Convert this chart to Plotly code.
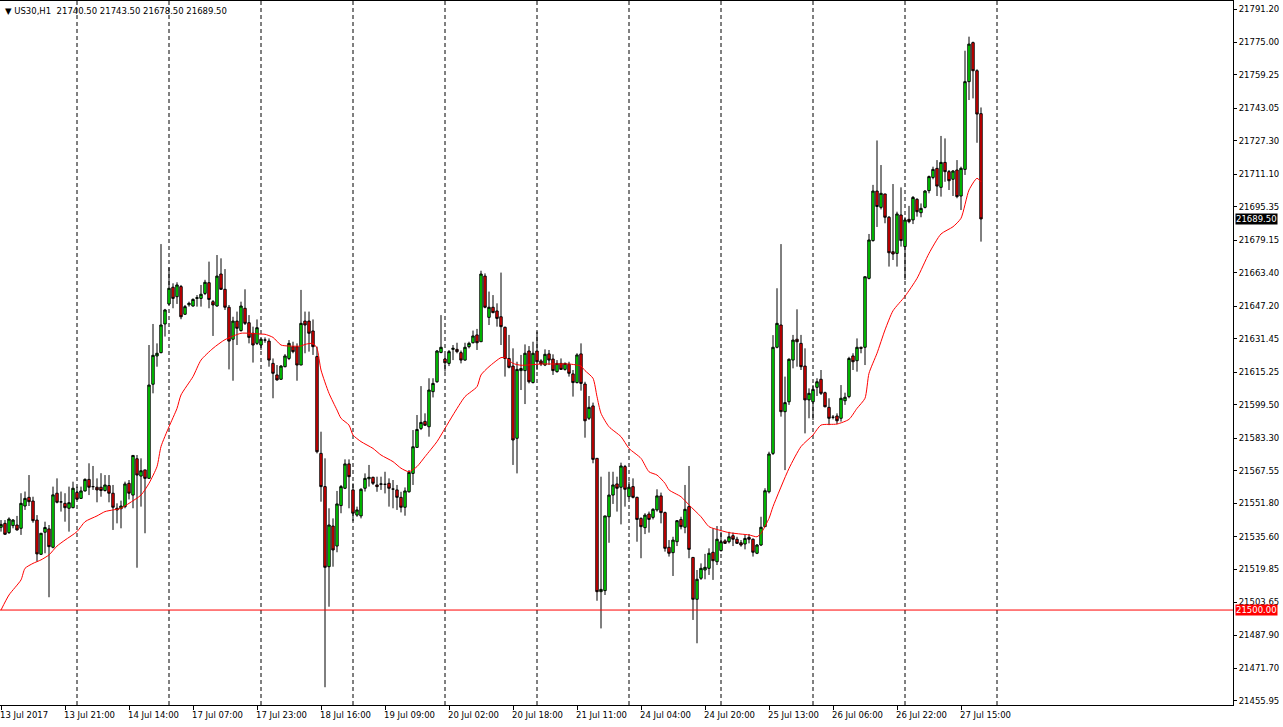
import plotly.graph_objects as go

# US30 H1 bars, 13 Jul 2017 04:00 .. 27 Jul 2017 19:00 (bar index 0..245)
open_ = [
    21540.1, 21542.0, 21537.5, 21540.9, 21541.2, 21539.6, 21550.4, 21554.6, 21552.8, 21543.6,
    21527.0, 21537.7, 21539.3, 21530.4, 21556.6, 21552.4, 21551.7, 21549.3, 21549.6, 21557.0,
    21554.1, 21557.7, 21563.3, 21559.8, 21559.5, 21559.5, 21557.9, 21560.3, 21556.6, 21548.5,
    21549.1, 21550.1, 21561.4, 21555.7, 21573.3, 21564.9, 21567.9, 21563.8, 21609.4, 21623.1,
    21624.7, 21638.6, 21648.3, 21656.4, 21651.8, 21656.7, 21643.3, 21647.9, 21647.3, 21651.0,
    21651.0, 21653.4, 21658.6, 21649.4, 21647.3, 21662.8, 21655.4, 21646.7, 21631.2, 21640.0,
    21635.4, 21646.2, 21639.2, 21634.1, 21629.2, 21628.4, 21630.8, 21630.3, 21619.5, 21613.9,
    21611.8, 21617.9, 21621.9, 21627.6, 21627.6, 21618.7, 21640.0, 21640.0, 21635.2, 21622.8,
    21575.9, 21559.8, 21521.0, 21540.7, 21531.0, 21550.6, 21559.0, 21570.8, 21558.2, 21546.0,
    21545.6, 21559.0, 21563.6, 21564.3, 21560.6, 21560.9, 21560.9, 21561.4, 21558.6, 21558.2,
    21554.6, 21549.8, 21557.3, 21566.2, 21578.8, 21588.0, 21591.4, 21588.8, 21605.8, 21610.6,
    21624.8, 21621.6, 21619.5, 21626.3, 21626.3, 21624.7, 21621.1, 21627.6, 21629.5, 21633.3,
    21630.0, 21661.8, 21641.8, 21646.7, 21644.9, 21642.1, 21637.0, 21621.9, 21618.2, 21583.2,
    21616.0, 21616.0, 21625.5, 21610.2, 21625.5, 21620.7, 21618.7, 21624.1, 21621.6, 21615.5,
    21619.5, 21616.6, 21619.1, 21614.4, 21610.2, 21624.1, 21609.5, 21592.9, 21598.9, 21573.5,
    21508.9, 21509.4, 21545.2, 21555.7, 21561.1, 21559.5, 21569.5, 21554.9, 21559.8, 21554.6,
    21544.4, 21539.9, 21546.5, 21544.9, 21548.5, 21555.3, 21547.2, 21530.4, 21527.8, 21533.1,
    21543.9, 21540.1, 21550.1, 21525.5, 21505.2, 21515.4, 21519.4, 21520.2, 21528.0, 21523.4,
    21528.8, 21533.5, 21533.1, 21536.0, 21534.3, 21532.6, 21532.0, 21535.2, 21534.3, 21527.5,
    21531.5, 21540.4, 21557.3, 21575.9, 21627.3, 21638.1, 21596.1, 21600.9, 21621.1, 21631.2,
    21629.2, 21618.2, 21601.8, 21600.9, 21607.9, 21611.8, 21605.3, 21598.2, 21593.4, 21594.0,
    21592.9, 21601.4, 21603.4, 21623.1, 21620.8, 21627.3, 21627.3, 21660.7, 21679.0, 21703.0,
    21695.1, 21701.6, 21690.3, 21673.6, 21672.8, 21691.4, 21676.1, 21689.3, 21689.0, 21699.0,
    21692.5, 21695.1, 21703.2, 21709.6, 21714.0, 21704.8, 21716.9, 21712.4, 21708.7, 21713.2,
    21700.6, 21713.5, 21756.0, 21774.9, 21761.3, 21740.5,
]
high = [
    21543.6, 21543.6, 21544.9, 21544.1, 21545.6, 21556.6, 21557.4, 21565.4, 21554.9, 21546.0,
    21537.2, 21542.8, 21541.2, 21559.8, 21563.8, 21557.4, 21556.6, 21559.8, 21562.2, 21559.8,
    21559.8, 21563.8, 21571.1, 21569.8, 21563.8, 21566.3, 21565.4, 21565.4, 21560.6, 21551.7,
    21553.0, 21562.2, 21563.0, 21574.9, 21575.1, 21573.5, 21567.9, 21628.4, 21638.6, 21629.2,
    21677.3, 21645.9, 21666.0, 21658.3, 21658.8, 21657.5, 21647.8, 21649.4, 21651.0, 21652.6,
    21657.5, 21660.0, 21668.8, 21650.2, 21672.0, 21670.4, 21665.2, 21647.8, 21642.1, 21644.6,
    21649.4, 21655.4, 21642.9, 21637.3, 21640.8, 21631.6, 21632.1, 21631.6, 21621.9, 21618.7,
    21618.7, 21624.0, 21630.8, 21630.0, 21629.2, 21655.1, 21644.6, 21644.6, 21640.8, 21627.6,
    21586.4, 21573.5, 21549.3, 21544.4, 21557.7, 21560.6, 21573.0, 21573.0, 21561.4, 21550.1,
    21559.0, 21566.2, 21570.3, 21564.6, 21564.6, 21564.6, 21567.0, 21563.8, 21563.0, 21560.6,
    21557.3, 21559.4, 21567.8, 21587.2, 21594.5, 21608.5, 21595.3, 21612.3, 21612.3, 21626.0,
    21642.9, 21623.6, 21626.0, 21628.4, 21629.5, 21625.7, 21629.5, 21630.0, 21635.4, 21636.2,
    21664.4, 21663.1, 21654.3, 21652.6, 21648.6, 21663.5, 21637.3, 21633.3, 21626.8, 21620.3,
    21623.6, 21628.7, 21627.9, 21630.0, 21634.9, 21621.5, 21626.3, 21626.0, 21623.9, 21621.1,
    21621.9, 21619.9, 21620.3, 21616.3, 21624.4, 21629.2, 21610.6, 21603.7, 21600.5, 21573.5,
    21564.6, 21545.6, 21567.0, 21567.0, 21564.6, 21571.4, 21570.3, 21562.2, 21563.8, 21554.9,
    21544.9, 21546.9, 21547.7, 21549.3, 21558.5, 21556.9, 21547.7, 21533.9, 21535.5, 21543.6,
    21545.2, 21560.6, 21569.8, 21525.5, 21519.4, 21522.6, 21527.2, 21529.9, 21539.6, 21540.7,
    21537.9, 21534.3, 21537.9, 21537.5, 21535.5, 21533.9, 21536.4, 21536.8, 21534.7, 21532.0,
    21545.2, 21559.0, 21576.7, 21633.2, 21655.9, 21677.3, 21613.1, 21621.9, 21633.3, 21645.7,
    21633.3, 21626.8, 21607.4, 21609.0, 21612.3, 21616.3, 21605.8, 21602.6, 21594.5, 21595.3,
    21609.0, 21605.3, 21622.7, 21624.4, 21631.6, 21627.6, 21661.5, 21682.2, 21706.0, 21727.5,
    21715.6, 21701.6, 21690.9, 21706.4, 21693.0, 21704.8, 21690.3, 21695.8, 21700.6, 21699.5,
    21697.0, 21703.5, 21710.5, 21714.8, 21718.0, 21729.7, 21728.5, 21713.2, 21713.2, 21718.0,
    21714.8, 21771.0, 21777.8, 21775.4, 21762.0, 21743.5,
]
low = [
    21538.0, 21536.4, 21536.9, 21539.6, 21538.5, 21536.4, 21548.5, 21550.4, 21542.3, 21523.5,
    21526.7, 21527.5, 21506.2, 21529.9, 21551.7, 21547.7, 21542.8, 21538.0, 21549.3, 21553.3,
    21553.8, 21557.4, 21555.7, 21558.2, 21552.2, 21554.9, 21557.4, 21552.2, 21538.8, 21542.0,
    21539.6, 21549.3, 21553.6, 21549.3, 21520.5, 21550.1, 21537.2, 21563.8, 21605.0, 21617.9,
    21624.4, 21632.5, 21647.8, 21646.2, 21648.3, 21640.9, 21643.0, 21647.0, 21647.0, 21647.0,
    21647.0, 21652.6, 21646.2, 21632.8, 21647.0, 21655.1, 21645.4, 21616.6, 21611.1, 21628.4,
    21634.9, 21638.1, 21629.2, 21619.9, 21628.4, 21626.0, 21629.5, 21617.9, 21602.6, 21611.1,
    21611.5, 21617.6, 21621.1, 21624.4, 21611.1, 21618.7, 21624.4, 21625.2, 21623.6, 21575.9,
    21552.5, 21462.6, 21501.6, 21521.0, 21528.0, 21546.9, 21558.6, 21549.3, 21543.1, 21545.2,
    21544.4, 21557.4, 21559.8, 21560.6, 21557.3, 21558.2, 21556.5, 21550.1, 21549.3, 21548.5,
    21547.3, 21545.7, 21556.9, 21560.6, 21578.8, 21587.2, 21589.2, 21584.0, 21603.0, 21610.1,
    21624.4, 21615.5, 21618.2, 21621.1, 21624.4, 21619.5, 21620.8, 21626.8, 21629.2, 21626.0,
    21630.0, 21646.2, 21638.1, 21643.8, 21637.3, 21628.4, 21613.1, 21617.1, 21570.3, 21566.2,
    21606.6, 21599.8, 21609.8, 21609.8, 21616.3, 21618.2, 21618.2, 21618.7, 21613.9, 21615.0,
    21616.3, 21616.0, 21613.1, 21603.4, 21609.8, 21606.3, 21583.5, 21592.1, 21571.1, 21504.5,
    21491.1, 21507.3, 21532.6, 21551.4, 21547.7, 21541.5, 21550.1, 21554.1, 21554.1, 21533.1,
    21525.1, 21536.8, 21537.5, 21543.9, 21547.7, 21542.0, 21528.3, 21525.9, 21516.5, 21531.0,
    21539.1, 21537.2, 21525.1, 21495.2, 21483.9, 21514.6, 21514.9, 21517.0, 21514.6, 21521.8,
    21528.3, 21532.0, 21532.3, 21531.0, 21532.0, 21530.7, 21529.4, 21532.3, 21525.9, 21527.1,
    21531.0, 21540.4, 21556.5, 21575.1, 21626.8, 21593.7, 21567.8, 21599.4, 21617.1, 21617.9,
    21616.3, 21585.6, 21592.9, 21592.1, 21603.7, 21604.2, 21598.2, 21589.6, 21592.4, 21590.1,
    21591.3, 21599.4, 21602.6, 21616.3, 21615.5, 21624.4, 21618.7, 21660.2, 21678.5, 21685.6,
    21694.1, 21687.4, 21666.4, 21669.6, 21666.4, 21676.1, 21659.9, 21687.4, 21687.0, 21690.6,
    21690.3, 21694.6, 21701.9, 21708.7, 21700.6, 21700.3, 21707.5, 21703.5, 21700.6, 21699.5,
    21693.8, 21710.8, 21747.1, 21747.9, 21726.4, 21678.5,
]
close = [
    21541.5, 21536.7, 21544.1, 21543.6, 21538.8, 21551.7, 21554.1, 21552.5, 21543.3, 21527.2,
    21537.2, 21540.0, 21530.7, 21555.8, 21552.2, 21552.4, 21549.6, 21552.0, 21559.0, 21553.7,
    21557.7, 21563.3, 21559.5, 21559.8, 21558.2, 21557.9, 21560.6, 21556.6, 21549.8, 21549.3,
    21550.4, 21561.1, 21556.6, 21574.9, 21565.4, 21567.5, 21563.8, 21609.0, 21623.4, 21624.4,
    21638.1, 21645.4, 21655.9, 21651.0, 21657.5, 21642.1, 21647.0, 21648.6, 21650.5, 21651.3,
    21653.0, 21658.8, 21650.5, 21647.8, 21661.8, 21655.4, 21646.7, 21630.3, 21640.0, 21636.5,
    21647.3, 21638.9, 21632.1, 21628.4, 21636.8, 21631.2, 21630.8, 21621.1, 21614.7, 21611.5,
    21618.2, 21623.1, 21629.2, 21625.2, 21618.7, 21638.9, 21638.1, 21634.1, 21627.6, 21576.7,
    21559.8, 21520.7, 21541.2, 21529.1, 21551.4, 21559.8, 21570.8, 21564.6, 21546.9, 21548.5,
    21558.5, 21563.8, 21564.3, 21561.4, 21559.8, 21561.1, 21560.9, 21559.0, 21558.6, 21554.6,
    21549.8, 21557.7, 21566.7, 21579.1, 21587.5, 21590.9, 21589.5, 21606.6, 21609.8, 21625.5,
    21627.3, 21619.8, 21625.2, 21626.8, 21625.2, 21621.1, 21627.3, 21629.2, 21632.8, 21629.5,
    21662.8, 21646.7, 21646.7, 21644.1, 21641.3, 21637.3, 21621.9, 21617.6, 21582.4, 21616.6,
    21617.0, 21624.4, 21610.6, 21624.4, 21620.3, 21619.2, 21623.9, 21621.1, 21616.0, 21619.5,
    21616.6, 21619.5, 21614.7, 21610.2, 21623.6, 21609.8, 21591.7, 21598.2, 21573.0, 21508.9,
    21510.0, 21545.6, 21555.7, 21560.6, 21559.0, 21569.8, 21558.5, 21559.5, 21554.6, 21543.9,
    21540.4, 21546.0, 21543.9, 21548.8, 21555.3, 21547.2, 21529.9, 21527.5, 21533.9, 21543.3,
    21540.4, 21548.8, 21529.4, 21505.2, 21514.9, 21520.2, 21520.7, 21527.5, 21523.9, 21534.3,
    21533.1, 21532.3, 21535.5, 21534.3, 21532.3, 21531.5, 21534.7, 21534.3, 21528.0, 21531.5,
    21540.1, 21557.8, 21575.6, 21627.3, 21638.9, 21596.1, 21600.5, 21621.5, 21630.8, 21630.0,
    21617.9, 21601.8, 21605.0, 21606.9, 21610.6, 21605.0, 21598.5, 21592.9, 21593.4, 21591.7,
    21602.6, 21603.1, 21621.9, 21620.3, 21627.3, 21626.8, 21661.5, 21679.3, 21703.0, 21695.5,
    21701.9, 21690.3, 21673.1, 21672.5, 21691.9, 21679.0, 21689.0, 21688.2, 21699.9, 21693.0,
    21694.6, 21703.0, 21710.0, 21713.5, 21705.4, 21716.9, 21712.4, 21708.0, 21712.7, 21700.3,
    21714.0, 21756.0, 21774.2, 21761.3, 21740.3, 21689.5,
]

# moving average at selected bars
ma_bar = [0, 2, 5, 6, 8, 10, 12, 14, 16, 19, 21, 24, 26, 28, 30, 32, 35, 37, 39, 40,
          42, 44, 45, 48, 50, 53, 56, 60, 62, 65, 66, 68, 70, 72, 75, 76, 78, 79, 80, 82,
          84, 85, 87, 88, 90, 93, 95, 98, 100, 102, 104, 106, 109, 111, 113, 116, 119, 120, 122, 125,
          126, 128, 130, 135, 138, 142, 145, 146, 148, 149, 150, 152, 155, 157, 160, 162, 164, 166, 167, 170,
          172, 175, 177, 180, 182, 185, 187, 189, 190, 192, 193, 197, 200, 203, 205, 209, 212, 214, 216, 217,
          219, 221, 223, 226, 229, 232, 235, 238, 240, 242, 244, 245]
ma_val = [21500.0, 21507.3, 21514.6, 21520.2, 21522.6, 21524.3, 21526.7, 21531.0, 21533.9, 21538.0,
          21542.8, 21545.6, 21547.7, 21548.5, 21549.3, 21551.7, 21555.7, 21561.4, 21569.5, 21579.2,
          21588.8, 21597.7, 21604.2, 21613.1, 21621.1, 21626.8, 21631.0, 21634.1, 21634.1, 21633.7,
          21633.6, 21632.1, 21628.4, 21627.9, 21627.9, 21628.7, 21629.2, 21626.8, 21616.3, 21605.0,
          21596.9, 21592.9, 21589.6, 21584.8, 21581.6, 21578.3, 21575.1, 21571.9, 21568.7, 21567.0,
          21569.5, 21574.3, 21581.6, 21588.0, 21594.5, 21603.4, 21608.2, 21613.9, 21617.9, 21622.3,
          21622.3, 21619.5, 21618.6, 21619.2, 21619.2, 21619.2, 21618.2, 21616.0, 21612.3, 21603.4,
          21595.3, 21588.8, 21584.0, 21578.3, 21573.5, 21567.0, 21565.4, 21561.4, 21558.2, 21554.9,
          21550.9, 21545.2, 21540.4, 21538.5, 21537.5, 21536.8, 21536.4, 21535.5, 21537.2, 21544.4,
          21550.1, 21568.6, 21579.2, 21584.8, 21589.6, 21590.1, 21592.4, 21597.7, 21602.6, 21614.7,
          21624.4, 21635.7, 21645.0, 21652.0, 21660.7, 21672.8, 21682.2, 21685.7, 21689.8, 21703.5,
          21709.2, 21707.5]

# day separators (bar index of first bar of each day)
day_start_bars = [19, 42, 65, 88, 111, 134, 157, 180, 203, 226, 249]

# time axis labels
time_label_bars = [0, 16, 32, 48, 64, 80, 96, 112, 128, 144, 160, 176, 192, 208, 224, 240]
time_labels = ["13 Jul 2017", "13 Jul 21:00", "14 Jul 14:00", "17 Jul 07:00", "17 Jul 23:00",
               "18 Jul 16:00", "19 Jul 09:00", "20 Jul 02:00", "20 Jul 18:00", "21 Jul 11:00",
               "24 Jul 04:00", "24 Jul 20:00", "25 Jul 13:00", "26 Jul 06:00", "26 Jul 22:00",
               "27 Jul 15:00"]

price_ticks = [21791.20, 21775.00, 21759.25, 21743.05, 21727.30, 21711.10, 21695.35, 21679.15,
               21663.40, 21647.20, 21631.45, 21615.25, 21599.50, 21583.30, 21567.55, 21551.80,
               21535.60, 21519.85, 21503.65, 21487.90, 21471.70, 21455.95]

level_line = 21500.00
bars = list(range(len(close)))

FONT = "Tahoma, DejaVu Sans, sans-serif"

fig = go.Figure()

fig.add_trace(
    go.Candlestick(
        x=bars,
        open=open_,
        high=high,
        low=low,
        close=close,
        increasing=dict(fillcolor="#00FF00", line=dict(color="black", width=1)),
        decreasing=dict(fillcolor="#FF0000", line=dict(color="black", width=1)),
        whiskerwidth=0,
        hoverinfo="skip",
        showlegend=False,
    )
)

fig.add_trace(
    go.Scatter(
        x=ma_bar,
        y=ma_val,
        mode="lines",
        line=dict(color="red", width=1, shape="spline", smoothing=0.6),
        hoverinfo="skip",
        showlegend=False,
    )
)

for b in day_start_bars:
    fig.add_vline(x=b, line=dict(color="black", width=1, dash="4px,3px"), layer="below")

fig.add_hline(y=level_line, line=dict(color="red", width=1))

# bottom time labels, left-aligned on their ticks like MT4
for b, t in zip(time_label_bars, time_labels):
    fig.add_annotation(
        x=b, xref="x", y=0, yref="paper", yanchor="top", xanchor="left",
        text=t, showarrow=False, xshift=-3, yshift=-3,
        font=dict(family=FONT, size=8.5, color="black"),
    )

# price markers on the right axis
for val, bg in [(close[-1], "black"), (level_line, "red")]:
    fig.add_annotation(
        x=1, xref="paper", y=val, yref="y", xanchor="left", yanchor="middle",
        text=f"{val:.2f}", showarrow=False, xshift=2,
        bgcolor=bg, borderpad=0, font=dict(family=FONT, size=8.5, color="white"),
    )

# header
fig.add_annotation(
    x=0, xref="paper", y=1, yref="paper", xanchor="left", yanchor="top",
    text=f"\u25BC US30,H1  {open_[-1]:.2f} {high[-1]:.2f} {low[-1]:.2f} {close[-1]:.2f}",
    showarrow=False, xshift=3, yshift=-3,
    font=dict(family=FONT, size=8.5, color="black"),
)

fig.update_xaxes(
    range=[-0.25, 308.0],
    rangeslider_visible=False,
    automargin=False,
    showgrid=False,
    zeroline=False,
    showline=True, linecolor="black", linewidth=1, mirror=True,
    tickvals=time_label_bars, ticktext=[""] * len(time_label_bars),
    ticks="outside", ticklen=4, tickcolor="black",
)
fig.update_yaxes(
    range=[21453.99, 21795.08],
    side="right",
    automargin=False,
    showgrid=False,
    zeroline=False,
    showline=True, linecolor="black", linewidth=1, mirror=True,
    tickvals=price_ticks, ticktext=[f"{v:.2f}" for v in price_ticks],
    ticks="outside", ticklen=3, tickcolor="black",
    tickfont=dict(family=FONT, size=8.5, color="black"),
)

fig.update_layout(
    width=1283,
    height=727,
    margin=dict(l=0, r=50, t=1, b=22, autoexpand=False),
    paper_bgcolor="white",
    plot_bgcolor="white",
    showlegend=False,
    boxgap=0.15,
)

# drop the page's default body margin so the chart sits at the window's corner
fig.write_html(
    "out.html",
    config={"displayModeBar": False},
    post_script="document.body.style.margin='0';document.body.style.padding='0';",
)
